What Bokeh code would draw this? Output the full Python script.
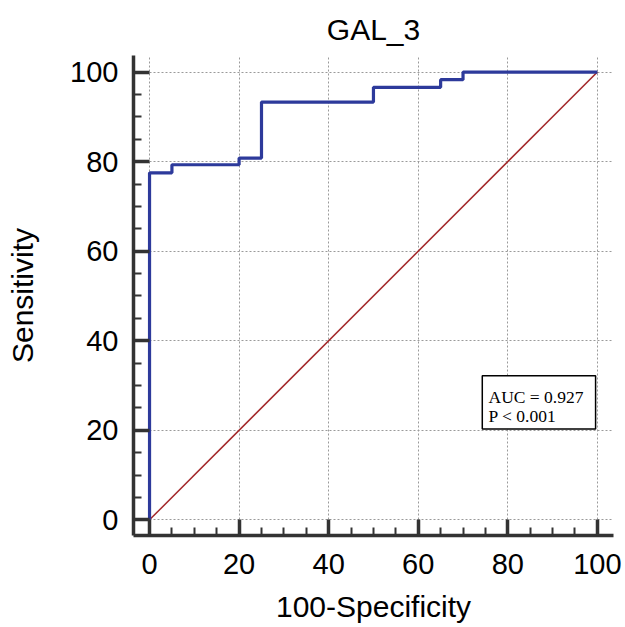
from bokeh.plotting import figure
from bokeh.models import Range1d, SingleIntervalTicker, BoxAnnotation, Label
from bokeh.embed import file_html
from bokeh.resources import INLINE

# ROC data (100-Specificity, Sensitivity), step after
fpr = [0, 0, 5, 20, 25, 50, 65, 70, 100]
tpr = [0, 77.5, 79.3, 80.8, 93.3, 96.6, 98.3, 100, 100]
diag_x = [0, 100]
diag_y = [0, 100]
auc_text = "AUC = 0.927"
p_text = "P < 0.001"
title_text = "GAL_3"
x_label = "100-Specificity"
y_label = "Sensitivity"

p = figure(width=625, height=627,
           x_range=Range1d(-3.58, 103.6), y_range=Range1d(-3.5, 103.7),
           output_backend="svg", toolbar_location=None,
           min_border_left=133, min_border_right=12,
           min_border_top=55, min_border_bottom=92,
           title=title_text)

p.outline_line_color = None
p.title.text_font = "Liberation Sans"
p.title.text_font_size = "30px"
p.title.text_font_style = "normal"
p.title.text_color = "black"
p.title.align = "center"
p.title.standoff = 20

for ax in (p.xaxis[0], p.yaxis[0]):
    ax.ticker = SingleIntervalTicker(interval=20, num_minor_ticks=4)
    ax.axis_line_width = 3.5
    ax.axis_line_color = "#333333"
    ax.major_tick_in = 16
    ax.major_tick_out = 0
    ax.minor_tick_in = 8
    ax.minor_tick_out = 0
    ax.major_tick_line_width = 3.5
    ax.major_tick_line_color = "#333333"
    ax.minor_tick_line_width = 2
    ax.minor_tick_line_color = "#333333"
    ax.major_label_text_font = "Liberation Sans"
    ax.major_label_text_font_size = "29px"
    ax.major_label_text_color = "black"
    ax.axis_label_text_font = "Liberation Sans"
    ax.axis_label_text_font_size = "30px"
    ax.axis_label_text_font_style = "normal"
    ax.axis_label_text_color = "black"

p.xaxis[0].axis_label = x_label
p.yaxis[0].axis_label = y_label
p.xaxis[0].major_label_standoff = 18
p.yaxis[0].major_label_standoff = 15
p.xaxis[0].axis_label_standoff = 13
p.yaxis[0].axis_label_standoff = 28

p.grid.grid_line_color = "#9a9a9a"
p.grid.grid_line_dash = "2 2"
p.grid.grid_line_width = 1

p.line(diag_x, diag_y, line_color="#a3282a", line_width=1.5)
p.step(fpr, tpr, mode="after", line_color="#2d3a9b", line_width=3.2)

box = BoxAnnotation(left=74.3, right=99.6, bottom=20.3, top=32.2,
                    fill_color="white", fill_alpha=1.0,
                    line_color="black", line_alpha=1.0, line_width=1.5)
p.add_layout(box)
p.add_layout(Label(x=75.7, y=27.4, text=auc_text, text_baseline="alphabetic",
                   text_font="Liberation Serif", text_font_size="17.5px",
                   text_color="black"))
p.add_layout(Label(x=75.7, y=23.3, text=p_text, text_baseline="alphabetic",
                   text_font="Liberation Serif", text_font_size="17.5px",
                   text_color="black"))

open("out.html", "w").write(file_html(p, INLINE))
